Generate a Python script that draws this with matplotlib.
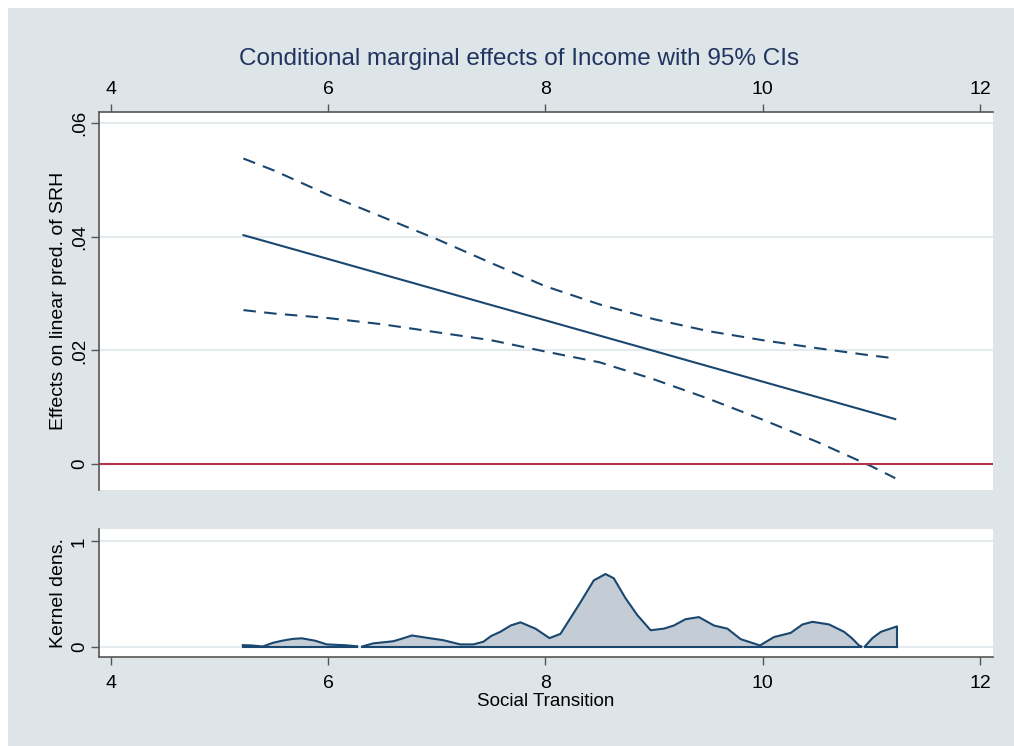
import numpy as np
import matplotlib
matplotlib.use("Agg")
import matplotlib.pyplot as plt
from matplotlib.patches import Rectangle

plt.rcParams['font.family'] = ['Liberation Sans', 'DejaVu Sans']

# marginal effect of income over social transition
st_x = [5.22, 5.5, 6.0, 6.5, 7.0, 7.5, 8.0, 8.5, 9.0, 9.5, 10.0, 10.5, 11.0, 11.22]
effect = [0.0403, 0.0388, 0.0361, 0.0334, 0.0307, 0.0280, 0.0253, 0.0226,
          0.0199, 0.0172, 0.0145, 0.0118, 0.0091, 0.0079]
ci_upper = [0.0538, 0.0517, 0.0474, 0.0435, 0.0396, 0.0354, 0.0313, 0.0281,
            0.0255, 0.0234, 0.0218, 0.0204, 0.0191, 0.0186]
ci_lower = [0.0271, 0.0265, 0.0257, 0.0246, 0.0232, 0.0218, 0.0198, 0.0179,
            0.0149, 0.0115, 0.0078, 0.0039, -0.0004, -0.0025]

# kernel density of social transition (nan = gap)
kd_x = [5.214, 5.30, 5.398, 5.49, 5.576, 5.67, 5.758, 5.88, 5.988, 6.157, 6.267, 6.29,
        6.313, 6.415, 6.599, 6.68, 6.771, 6.94, 7.06, 7.216, 7.336, 7.428, 7.50, 7.585,
        7.68, 7.77, 7.908, 8.037, 8.138, 8.23, 8.322, 8.445, 8.553, 8.629, 8.737, 8.845,
        8.968, 9.09, 9.182, 9.29, 9.413, 9.551, 9.675, 9.797, 9.975, 10.104,
        10.258, 10.366, 10.458, 10.611, 10.749, 10.82, 10.887, 10.909, 10.925,
        10.94, 11.01, 11.088, 11.232]
kd_y = [0.013, 0.01, 0.0, 0.035, 0.055, 0.072, 0.078, 0.055, 0.02, 0.012, 0.002, np.nan,
        0.0, 0.03, 0.05, 0.075, 0.105, 0.078, 0.06, 0.02, 0.02, 0.045, 0.10, 0.14,
        0.20, 0.23, 0.17, 0.08, 0.12, 0.27, 0.42, 0.63, 0.69, 0.65, 0.46, 0.30,
        0.155, 0.17, 0.20, 0.26, 0.28, 0.20, 0.17, 0.07, 0.01, 0.09,
        0.13, 0.21, 0.235, 0.21, 0.14, 0.08, 0.01, 0.0, np.nan,
        0.0, 0.08, 0.14, 0.19]

x_ticks = [4, 6, 8, 10, 12]

navy = '#1a476f'
bg = '#dee5e9'
grid_c = '#e4eaee'
spine_c = '#555555'

fig = plt.figure(figsize=(10.14, 7.46), dpi=100)
fig.patches.append(Rectangle((8 / 1014, 0), 1, 1 - 8 / 746, transform=fig.transFigure,
                             facecolor=bg, edgecolor='none', zorder=-10))

ax = fig.add_axes([0.0976, 0.3432, 0.8817, 0.5067])
ax2 = fig.add_axes([0.0976, 0.1193, 0.8817, 0.1716])

# top panel
ax.plot(st_x, effect, color=navy, lw=1.5)
ax.plot(st_x, ci_upper, color=navy, lw=1.5, dashes=(6, 4))
ax.plot(st_x, ci_lower, color=navy, lw=1.5, dashes=(6, 4))
ax.axhline(0, color='#b5334c', lw=1.5)
ax.set_xlim(3.89, 12.12)
ax.set_ylim(-0.00458, 0.0620)
ax.set_yticks([0, 0.02, 0.04, 0.06])
ax.set_yticklabels(['0', '.02', '.04', '.06'], rotation=90, va='center', fontsize=13.5)
ax.set_xticks(x_ticks)
ax.xaxis.tick_top()
ax.tick_params(axis='x', labelsize=14, length=6, width=1, color=spine_c, pad=4)
ax.tick_params(axis='y', length=6, width=1, color=spine_c, pad=2)
for y in [0.02, 0.04, 0.06]:
    ax.axhline(y, color=grid_c, lw=1.5, zorder=0)
ax.spines['bottom'].set_visible(False)
ax.spines['right'].set_visible(False)
for s in ['top', 'left']:
    ax.spines[s].set_color(spine_c)
    ax.spines[s].set_linewidth(1.2)
ax.set_ylabel('Effects on linear pred. of SRH', fontsize=14, labelpad=3)
fig.text(519 / 1014, 1 - 59 / 746, 'Conditional marginal effects of Income with 95% CIs',
         fontsize=17.5, color='#1f3560', ha='center', va='center')

# bottom panel
kx = np.array(kd_x)
ky = np.array(kd_y)
ax2.fill_between(kx, 0, ky, where=~np.isnan(ky), facecolor='#c4cdd6', edgecolor='none',
                 interpolate=False)
ax2.plot(kx, ky, color=navy, lw=1.5)
# baseline and right closing edge of each segment
gaps = list(np.where(np.isnan(ky))[0])
seg_starts = [0] + [g + 1 for g in gaps]
seg_ends = [g - 1 for g in gaps] + [len(kx) - 1]
for a, b in zip(seg_starts, seg_ends):
    ax2.plot([kx[a], kx[b]], [0, 0], color=navy, lw=1.5)
ax2.plot([kx[-1], kx[-1]], [0, ky[-1]], color=navy, lw=1.5)
ax2.set_xlim(3.89, 12.12)
ax2.set_ylim(-0.10, 1.119)
ax2.set_yticks([0, 1])
ax2.set_yticklabels(['0', '1'], rotation=90, va='center', fontsize=13.5)
ax2.set_xticks(x_ticks)
ax2.tick_params(axis='x', labelsize=14, length=6, width=1, color=spine_c, pad=7)
ax2.tick_params(axis='y', length=6, width=1, color=spine_c, pad=2)
ax2.axhline(1, color=grid_c, lw=1.5, zorder=0)
ax2.axhline(0, color=grid_c, lw=1.5, zorder=0)
ax2.spines['top'].set_visible(False)
ax2.spines['right'].set_visible(False)
for s in ['bottom', 'left']:
    ax2.spines[s].set_color(spine_c)
    ax2.spines[s].set_linewidth(1.2)
ax2.set_ylabel('Kernel dens.', fontsize=14, labelpad=3)
ax2.set_xlabel('Social Transition', fontsize=13.5, labelpad=1)

fig.savefig('out.png', dpi=100, facecolor='white')
